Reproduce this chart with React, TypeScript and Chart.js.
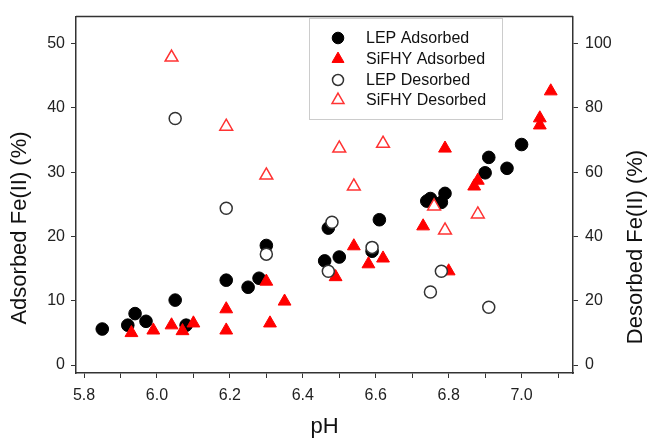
import React, { useEffect, useRef } from "react";
import { Chart, registerables } from "chart.js";
import { drawPoint } from "chart.js/helpers";

Chart.register(...registerables);

// ---- data ----
const lepAdsPH = [5.85, 5.92, 5.94, 5.97, 6.05, 6.08, 6.19, 6.25, 6.28, 6.30, 6.46, 6.47, 6.50, 6.59, 6.61, 6.74, 6.75, 6.78, 6.79, 6.90, 6.91, 6.96, 7.00];
const lepAdsVal = [5.6, 6.2, 8.0, 6.8, 10.1, 6.2, 13.2, 12.1, 13.5, 18.6, 16.2, 21.3, 16.8, 17.7, 22.6, 25.5, 25.9, 25.3, 26.7, 29.9, 32.3, 30.6, 34.3];

const sifAdsPH = [5.93, 5.99, 6.04, 6.07, 6.10, 6.19, 6.19, 6.30, 6.31, 6.35, 6.49, 6.54, 6.58, 6.62, 6.73, 6.79, 6.80, 6.87, 6.88, 7.05, 7.05, 7.08];
const sifAdsVal = [5.0, 5.4, 6.2, 5.3, 6.5, 8.7, 5.4, 13.0, 6.5, 9.9, 13.7, 18.5, 15.7, 16.6, 21.6, 33.7, 14.6, 27.8, 28.7, 37.3, 38.4, 42.6];

const lepDesPH = [6.05, 6.19, 6.30, 6.48, 6.47, 6.59, 6.75, 6.78, 6.91];
const lepDesVal = [76.7, 48.8, 34.5, 44.4, 29.2, 36.6, 22.7, 29.2, 18.0];

const sifDesPH = [6.04, 6.19, 6.30, 6.50, 6.54, 6.62, 6.76, 6.79, 6.88];
const sifDesVal = [95.7, 74.2, 59.0, 67.4, 55.6, 68.9, 49.4, 41.9, 46.9];

const xTickValues = [5.8, 5.9, 6.0, 6.1, 6.2, 6.3, 6.4, 6.5, 6.6, 6.7, 6.8, 6.9, 7.0, 7.1];
const yLeftTicks = [0, 10, 20, 30, 40, 50];
const yRightTicks = [0, 20, 40, 60, 80, 100];

const seriesNames = ["LEP Adsorbed", "SiFHY Adsorbed", "LEP Desorbed", "SiFHY Desorbed"];
const xTitle = "pH";
const yLeftTitle = "Adsorbed Fe(II) (%)";
const yRightTitle = "Desorbed Fe(II) (%)";

const FONT = "'Liberation Sans', Arial, sans-serif";

const toPts = (xs: number[], ys: number[]) => xs.map((x, i) => ({ x, y: ys[i] }));

const styles = [
  { pointStyle: "circle", radius: 6.3, bg: "#000000", border: "#000000", bw: 1 },
  { pointStyle: "triangle", radius: 7.4, bg: "#ff0000", border: "#ff0000", bw: 1 },
  { pointStyle: "circle", radius: 6.0, bg: "#ffffff", border: "#333333", bw: 1.5 },
  { pointStyle: "triangle", radius: 7.4, bg: "#ffffff", border: "#ff3333", bw: 1.5 },
];

export default function App() {
  const ref = useRef<HTMLCanvasElement | null>(null);

  useEffect(() => {
    document.body.style.margin = "0";
    const canvas = ref.current;
    if (!canvas) return;

    const decor = {
      id: "decor",
      afterDatasetsDraw(chart: any) {
        const ctx = chart.ctx;
        const a = chart.chartArea;
        ctx.save();
        // top border of the frame
        ctx.strokeStyle = "#333";
        ctx.lineWidth = 1.5;
        ctx.beginPath();
        ctx.moveTo(a.left, a.top);
        ctx.lineTo(a.right, a.top);
        ctx.stroke();

        // legend box
        const bx = 309, by = 18, bw = 193, bh = 101;
        ctx.fillStyle = "#fff";
        ctx.fillRect(bx, by, bw, bh);
        ctx.strokeStyle = "#cccccc";
        ctx.lineWidth = 1;
        ctx.strokeRect(bx + 0.5, by + 0.5, bw, bh);
        const rows = [38, 59, 80, 100];
        ctx.font = `16px ${FONT}`;
        ctx.textBaseline = "middle";
        ctx.textAlign = "left";
        rows.forEach((ry, i) => {
          const s = styles[i];
          ctx.fillStyle = s.bg;
          ctx.strokeStyle = s.border;
          ctx.lineWidth = s.bw;
          drawPoint(ctx, { pointStyle: s.pointStyle as any, radius: s.radius - 0.5, rotation: 0, borderWidth: s.bw }, 338, ry);
          ctx.fillStyle = "#111";
          ctx.fillText(seriesNames[i], 366, ry + 1);
        });

        // axis titles
        ctx.fillStyle = "#111";
        ctx.font = `22px ${FONT}`;
        ctx.textAlign = "center";
        ctx.textBaseline = "middle";
        ctx.fillText(xTitle, (a.left + a.right) / 2, 427);
        ctx.save();
        ctx.translate(20, 228);
        ctx.rotate(-Math.PI / 2);
        ctx.fillText(yLeftTitle, 0, 0);
        ctx.restore();
        ctx.save();
        ctx.translate(636, 247);
        ctx.rotate(-Math.PI / 2);
        ctx.fillText(yRightTitle, 0, 0);
        ctx.restore();
        ctx.restore();
      },
    };

    const mkDs = (i: number, xs: number[], ys: number[], axis: string, order: number) => ({
      label: seriesNames[i],
      data: toPts(xs, ys),
      yAxisID: axis,
      pointStyle: styles[i].pointStyle,
      pointRadius: styles[i].radius,
      pointBackgroundColor: styles[i].bg,
      pointBorderColor: styles[i].border,
      pointBorderWidth: styles[i].bw,
      showLine: false,
      order,
    });

    const axisCommon = {
      grid: { drawOnChartArea: false, drawTicks: true, tickLength: 5, color: "#333", lineWidth: 1 },
      border: { display: true, color: "#333", width: 1.5 },
    };

    const chart = new Chart(canvas, {
      type: "scatter",
      data: {
        datasets: [
          mkDs(0, lepAdsPH, lepAdsVal, "y", 4),
          mkDs(1, sifAdsPH, sifAdsVal, "y", 3),
          mkDs(2, lepDesPH, lepDesVal, "y2", 2),
          mkDs(3, sifDesPH, sifDesVal, "y2", 1),
        ] as any,
      },
      options: {
        animation: false,
        responsive: false,
        devicePixelRatio: 1,
        layout: { padding: { top: 16, left: 0, right: 0, bottom: 0 } },
        plugins: { legend: { display: false }, tooltip: { enabled: false } },
        scales: {
          x: {
            type: "linear",
            min: 5.778,
            max: 7.141,
            ...axisCommon,
            afterBuildTicks: (s: any) => {
              s.ticks = xTickValues.map((v) => ({ value: v }));
            },
            afterFit: (s: any) => {
              s.height = 65;
            },
            ticks: {
              autoSkip: false,
              maxRotation: 0,
              padding: 8,
              color: "#222",
              font: { family: FONT, size: 16 },
              callback: (v: any) => (Math.round(Number(v) * 10) % 2 === 0 ? Number(v).toFixed(1) : ""),
            },
          },
          y: {
            type: "linear",
            position: "left",
            min: -1.24,
            max: 54.2,
            ...axisCommon,
            afterBuildTicks: (s: any) => {
              s.ticks = yLeftTicks.map((v) => ({ value: v }));
            },
            afterFit: (s: any) => {
              s.width = 76;
            },
            ticks: { padding: 6, color: "#222", font: { family: FONT, size: 16 } },
          },
          y2: {
            type: "linear",
            position: "right",
            min: -2.48,
            max: 108.4,
            ...axisCommon,
            afterBuildTicks: (s: any) => {
              s.ticks = yRightTicks.map((v) => ({ value: v }));
            },
            afterFit: (s: any) => {
              s.width = 75;
            },
            ticks: { padding: 7, color: "#222", font: { family: FONT, size: 16 } },
          },
        },
      } as any,
      plugins: [decor],
    });

    return () => chart.destroy();
  }, []);

  return <canvas ref={ref} width={648} height={438} style={{ display: "block" }} />;
}
